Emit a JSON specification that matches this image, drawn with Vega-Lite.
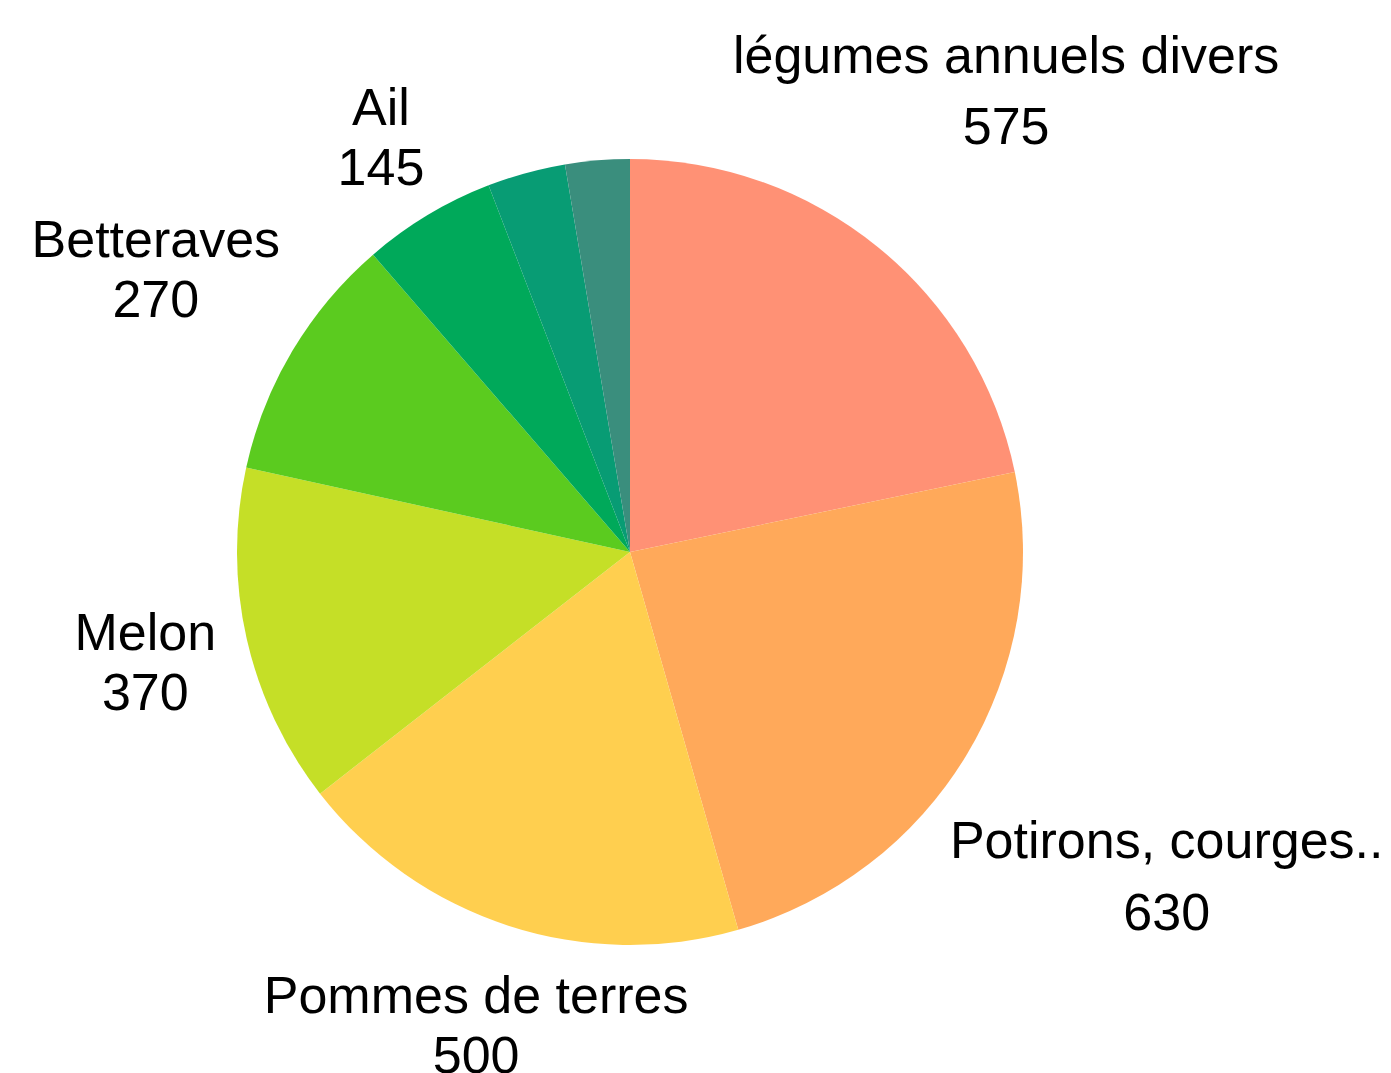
{
  "$schema": "https://vega.github.io/schema/vega-lite/v6.json",
  "autosize": "none",
  "width": 1260,
  "height": 1044,
  "padding": {"left": 0, "top": 30, "right": 131, "bottom": 0},
  "background": "white",
  "config": {"view": {"stroke": null}, "text": {"font": "Liberation Sans", "fontSize": 52, "color": "black"}},
  "data": {"values": [
    {"order": 1, "name": "légumes annuels divers", "value": 575},
    {"order": 2, "name": "Potirons, courges..", "value": 630},
    {"order": 3, "name": "Pommes de terres", "value": 500},
    {"order": 4, "name": "Melon", "value": 370},
    {"order": 5, "name": "Betteraves", "value": 270},
    {"order": 6, "name": "Ail", "value": 145},
    {"order": 7, "name": "Autre 1", "value": 85},
    {"order": 8, "name": "Autre 2", "value": 70}
  ]},
  "encoding": {
    "theta": {"field": "value", "type": "quantitative", "stack": true, "scale": {"zero": true, "nice": false}},
    "order": {"field": "order", "type": "quantitative"}
  },
  "layer": [
    {
      "mark": {"type": "arc", "outerRadius": 393},
      "encoding": {
        "color": {"field": "name", "type": "nominal", "legend": null, "sort": {"field": "order"},
          "scale": {
            "domain": ["légumes annuels divers", "Potirons, courges..", "Pommes de terres", "Melon", "Betteraves", "Ail", "Autre 1", "Autre 2"],
            "range": ["#FF9175", "#FFA95A", "#FFCF4F", "#C5DF27", "#5BCB1F", "#00A95A", "#089C74", "#3A8E7D"]
          }
        }
      }
    },
    {
      "mark": {"type": "text", "radius": 596, "align": "center", "baseline": "alphabetic", "dy": -17},
      "encoding": {"text": {"condition": {"test": "datum.name === 'légumes annuels divers'", "field": "name"}, "value": ""}}
    },
    {
      "mark": {"type": "text", "radius": 596, "align": "center", "baseline": "alphabetic", "dy": 54},
      "encoding": {"text": {"condition": {"test": "datum.name === 'légumes annuels divers'", "field": "value", "type": "quantitative"}, "value": ""}}
    },
    {
      "mark": {"type": "text", "radius": 627, "align": "center", "baseline": "alphabetic", "dy": -18},
      "encoding": {"text": {"condition": {"test": "datum.name === 'Potirons, courges..'", "field": "name"}, "value": ""}}
    },
    {
      "mark": {"type": "text", "radius": 627, "align": "center", "baseline": "alphabetic", "dy": 54},
      "encoding": {"text": {"condition": {"test": "datum.name === 'Potirons, courges..'", "field": "value", "type": "quantitative"}, "value": ""}}
    },
    {
      "mark": {"type": "text", "radius": 497, "align": "center", "baseline": "alphabetic", "dy": -12},
      "encoding": {"text": {"condition": {"test": "datum.name === 'Pommes de terres' || datum.name === 'Melon'", "field": "name"}, "value": ""}}
    },
    {
      "mark": {"type": "text", "radius": 497, "align": "center", "baseline": "alphabetic", "dy": 48},
      "encoding": {"text": {"condition": {"test": "datum.name === 'Pommes de terres' || datum.name === 'Melon'", "field": "value", "type": "quantitative"}, "value": ""}}
    },
    {
      "mark": {"type": "text", "radius": 552, "align": "center", "baseline": "alphabetic", "dy": -12},
      "encoding": {"text": {"condition": {"test": "datum.name === 'Betteraves'", "field": "name"}, "value": ""}}
    },
    {
      "mark": {"type": "text", "radius": 552, "align": "center", "baseline": "alphabetic", "dy": 48},
      "encoding": {"text": {"condition": {"test": "datum.name === 'Betteraves'", "field": "value", "type": "quantitative"}, "value": ""}}
    },
    {
      "mark": {"type": "text", "radius": 484, "align": "center", "baseline": "alphabetic", "dy": -12},
      "encoding": {"text": {"condition": {"test": "datum.name === 'Ail'", "field": "name"}, "value": ""}}
    },
    {
      "mark": {"type": "text", "radius": 484, "align": "center", "baseline": "alphabetic", "dy": 48},
      "encoding": {"text": {"condition": {"test": "datum.name === 'Ail'", "field": "value", "type": "quantitative"}, "value": ""}}
    }
  ]
}
